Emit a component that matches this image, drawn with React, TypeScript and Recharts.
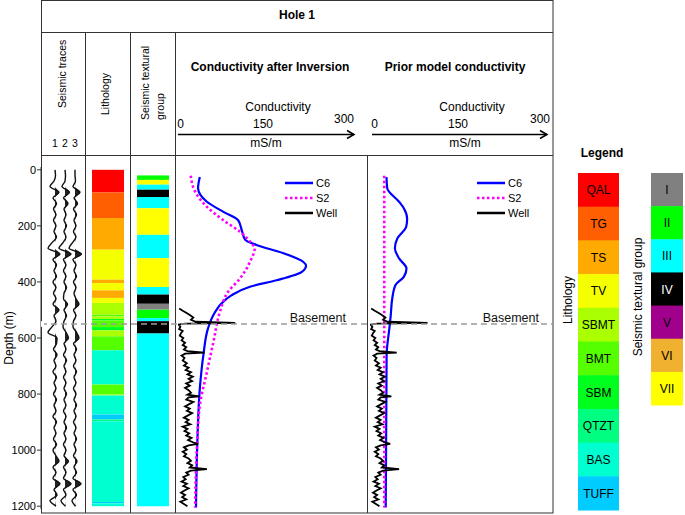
import {
  Area,
  Bar,
  BarChart,
  Cell,
  ComposedChart,
  Legend,
  Line,
  ReferenceLine,
  XAxis,
  YAxis,
} from "recharts";

const font = '"Liberation Sans", Arial, sans-serif';

// depth axis (m)
const depthTicks = [0, 200, 400, 600, 800, 1000, 1200];
const depthDomain: [number, number] = [-10, 1210];
const basementDepth = 550;

// seismic traces, amplitude every 20 m
const traceDepths = [
  0, 20, 40, 60, 80, 100, 120, 140, 160, 180, 200, 220, 240, 260, 280, 300, 320, 340, 360, 380,
  400, 420, 440, 460, 480, 500, 520, 540, 560, 580, 600, 620, 640, 660, 680, 700, 720, 740, 760,
  780, 800, 820, 840, 860, 880, 900, 920, 940, 960, 980, 1000, 1020, 1040, 1060, 1080, 1100,
  1120, 1140, 1160, 1180, 1200,
];
const trace1 = [
  0, 0.5, -1, -5, 4, -2, 1.5, -1.5, 1, -1.5, 1, -1, 1.5, -3, -7, 5, -2, 1.5, -1, 1.5, -2, 1, -1.5,
  1, -2, 4, -1, 1, -3, -7, 2, 1.5, -1.5, 2, -1, 1, -2, 1.5, -1, 1, -1.5, 1.5, -1, 1, -2, 1.5, -1,
  1, -1.5, 1.5, -2, 1, 4, -2, 1, -2, 5, -1, 2, -5, 1,
];
const trace2 = [
  0, 0.5, 0, -3, 4.5, -1.5, 3, -1, 1, -1, 1.5, -1, 1, -2, -6, 6, -1.5, 1, -1.5, 1, -1, 1.5, -1,
  -1.5, 2.5, -1, 1.5, -1, -2, 1, 3.5, -1, 1, -1.5, 1.5, -1, 1, -1.5, 1, -1, 1.5, -1, 1, -1.5, 1,
  -1, 1.5, -1, 1, -1.5, 1, -1, 3.5, -1.5, 1, -1.5, 6, -1.5, 1, -4, 0.5,
];
const trace3 = [
  0, 0, 0.5, -2, 5, -1, 2.5, -1.5, 1.5, -1, 1, -1.5, 1, -2.5, -6, 6.5, -2, 1, -1, 1.5, -1.5, 1,
  -1, 1, 4, -1.5, 1, -1.5, -2, 1.5, 4, -1.5, 1.5, -1, 1, -1.5, 1.5, -1, 1, -1.5, 1, -1, 1.5, -1,
  1, -1.5, 1, -1, 1.5, -1, 1, -1.5, 2, -1, 1.5, -2, 6, -2, 1.5, -3, 0.5,
];
const traceLabels = ["1", "2", "3"];
const traceOffsets = [14, 24, 34];

// lithology and seismic textural legend
const lithUnits = ["QAL", "TG", "TS", "TV", "SBMT", "BMT", "SBM", "QTZT", "BAS", "TUFF"];
const lithColors = [
  "#ff0000", "#ff5f00", "#ffaa00", "#f4ff00", "#aaff00",
  "#55ff00", "#00ff1e", "#00ff80", "#00ffd0", "#00ccff",
];
const texGroups = ["I", "II", "III", "IV", "V", "VI", "VII"];
const texColors = ["#808080", "#00ff00", "#00ffff", "#000000", "#a0008c", "#f0b030", "#ffff00"];

// layer tops (m) in the well
const lithTops = [
  0, 81, 172, 285, 392, 404, 430, 457, 475, 517, 523, 532, 537, 561, 573, 594, 644, 766, 802,
  805, 873, 891, 897, 1185, 1190,
];
const lithNames = [
  "QAL", "TG", "TS", "TV", "TS", "TV", "TS", "TV", "SBMT", "BMT", "SBMT", "SBM", "BMT", "SBM",
  "SBMT", "BMT", "BAS", "BMT", "SBMT", "BAS", "TUFF", "QTZT", "BAS", "TUFF", "BAS",
];
const texTops = [20, 36, 53, 71, 97, 137, 232, 315, 418, 445, 478, 499, 529, 540, 584];
const texNames = [
  "II", "VII", "III", "IV", "III", "VII", "III", "VII", "III", "IV", "I", "II", "III", "IV", "III",
];
const columnBase = 1200;

// conductivity (mS/m) after inversion
const invC6Depth = [26, 65, 114, 150, 180, 215, 250, 268, 297, 328, 342, 364, 394, 417, 447, 476, 518, 565, 661, 780, 958, 1205];
const invC6Cond = [37, 34, 49, 77, 102, 108, 114, 133, 178, 212, 217, 210, 167, 122, 91, 74, 60, 51, 43, 37, 33, 30.5];
const invS2Depth = [21, 78, 132, 180, 221, 263, 280, 328, 388, 435, 507, 614, 721, 840, 995, 1205];
const invS2Cond = [21.5, 29, 49, 77, 105, 125, 130, 122, 105, 85, 71, 60, 49, 37, 32, 29];

// prior model conductivity
const priorC6Depth = [26, 65, 114, 137, 175, 203, 245, 280, 316, 352, 382, 411, 459, 518, 566, 661, 1205];
const priorC6Cond = [27.8, 29, 49, 57, 62.6, 61, 46, 42, 49, 61.5, 57, 43, 37.5, 35, 32.6, 28, 26.5];
const priorS2Depth = [21, 1205];
const priorS2Cond = [24, 24];

// well log
const wellDepth = [
  495, 503, 510, 518, 527, 535, 542, 546, 549, 552, 560, 568, 575, 583, 592, 600, 608, 617, 625,
  633, 641, 647, 652, 656, 663, 671, 680, 690, 698, 706, 714, 722, 730, 738, 746, 754, 762, 770,
  778, 786, 795, 802, 808, 812, 820, 828, 836, 844, 852, 860, 868, 876, 884, 892, 900, 908, 916,
  924, 932, 940, 948, 956, 964, 972, 978, 983, 990, 998, 1006, 1014, 1022, 1030, 1038, 1046,
  1054, 1062, 1068, 1073, 1080, 1088, 1096, 1104, 1112, 1120, 1128, 1136, 1144, 1152, 1160,
  1168, 1176, 1184, 1192, 1200,
];
const wellCond = [
  2, 8, 14, 20, 26, 22, 30, 97, 12, 1, 4, 2, 8, 5, 3, 9, 6, 12, 8, 14, 10, 16, 45, 12, 6, 11, 8,
  15, 10, 18, 13, 22, 16, 25, 18, 24, 14, 20, 12, 18, 22, 16, 36, 18, 14, 26, 19, 12, 20, 15, 24,
  17, 10, 18, 13, 21, 8, 16, 11, 19, 14, 23, 17, 25, 34, 18, 10, 15, 8, 14, 10, 18, 22, 16, 24,
  20, 49, 22, 14, 18, 9, 13, 6, 15, 9, 18, 11, 5, 12, 7, 14, 4, 10, 16,
];

const zip = (depth: number[], cond: number[]) => depth.map((d, i) => ({ depth: d, cond: cond[i] }));

const seismicData = traceDepths.map((depth, i) => {
  const row: Record<string, number> = { depth };
  [trace1, trace2, trace3].forEach((tr, k) => {
    row[`t${k}`] = traceOffsets[k] + tr[i];
    row[`p${k}`] = traceOffsets[k] + Math.max(tr[i], 0);
  });
  return row;
});

const lithColor = (name: string) => lithColors[lithUnits.indexOf(name)];
const texColor = (name: string) => texColors[texGroups.indexOf(name)];

const lithSegments = lithTops.map((top, i) => ({
  size: (lithTops[i + 1] ?? columnBase) - top,
  color: lithColor(lithNames[i]),
}));
const texSegments = [
  { size: texTops[0], color: "transparent" },
  ...texTops.map((top, i) => ({
    size: (texTops[i + 1] ?? columnBase) - top,
    color: texColor(texNames[i]),
  })),
];
const segCount = Math.max(lithSegments.length, texSegments.length);
const toRow = (col: string, segs: { size: number }[]) => {
  const row: Record<string, number | string> = { col };
  segs.forEach((s, i) => (row[`s${i}`] = s.size));
  return row;
};
const columnData = [toRow("lith", lithSegments), toRow("tex", texSegments)];

const chartTop = 155;
const chartHeight = 358;
const plotMargin = { top: 12, bottom: 4 };

function SeriesLegend(props: any) {
  const entries = props.payload ?? [];
  return (
    <div style={{ fontFamily: font, fontSize: 11, color: "#000" }}>
      {entries.map((e: any) => (
        <div key={e.value} style={{ display: "flex", alignItems: "center", height: 15 }}>
          <svg width={28} height={6} style={{ display: "block" }}>
            <line
              x1={0}
              y1={3}
              x2={28}
              y2={3}
              stroke={e.color}
              strokeWidth={2.5}
              strokeDasharray={e.payload?.strokeDasharray}
            />
          </svg>
          <span style={{ marginLeft: 3 }}>{e.value}</span>
        </div>
      ))}
    </div>
  );
}

type PanelProps = {
  left: number;
  width: number;
  marginRight: number;
  c6: { depth: number; cond: number }[];
  s2: { depth: number; cond: number }[];
};

// in vertical layout the numeric y axis already runs top -> bottom
function ConductivityPanel({ left, width, marginRight, c6, s2 }: PanelProps) {
  return (
    <div style={{ position: "absolute", left, top: chartTop }}>
      <ComposedChart
        layout="vertical"
        width={width}
        height={chartHeight}
        margin={{ ...plotMargin, left: 3, right: marginRight }}
      >
        <XAxis type="number" dataKey="cond" domain={[0, 300]} height={0} ticks={[190]} tick={false}
          mirror tickSize={4} stroke="#444" allowDataOverflow />
        <XAxis xAxisId="top" orientation="top" type="number" domain={[0, 300]} height={0}
          ticks={[140]} tick={false} mirror tickSize={4} stroke="#444" />
        <YAxis type="number" dataKey="depth" domain={depthDomain} width={0} tick={false}
          tickLine={false} stroke="#444" allowDataOverflow />
        <YAxis yAxisId="right" orientation="right" type="number" domain={depthDomain}
          width={0} ticks={[200, 400, 600, 800, 1000, 1200]} tick={false} mirror tickSize={4}
          stroke="#444" />
        <ReferenceLine y={basementDepth} stroke="none"
          label={{ value: "Basement", position: "insideBottomRight", offset: 2, dx: -7, fontSize: 12.5, fill: "#111", fontFamily: font }} />
        <Line data={c6} dataKey="cond" name="C6" type="monotone" stroke="#0000ff" strokeWidth={2.2}
          dot={false} isAnimationActive={false} legendType="plainline" />
        <Line data={s2} dataKey="cond" name="S2" type="monotone" stroke="#ff00ff" strokeWidth={2.6}
          strokeDasharray="2.5 2.5" dot={false} isAnimationActive={false} legendType="plainline" />
        <Line data={zip(wellDepth, wellCond)} dataKey="cond" name="Well" type="linear" stroke="#000"
          strokeWidth={1.8} dot={false} isAnimationActive={false} legendType="plainline" />
        <Legend layout="vertical" align="center" verticalAlign="middle" content={SeriesLegend}
          wrapperStyle={{ left: 110, top: 20, width: 70 }} />
      </ComposedChart>
    </div>
  );
}

function SeismicChart() {
  return (
    <div style={{ position: "absolute", left: 0, top: chartTop }}>
      <ComposedChart layout="vertical" width={85} height={chartHeight} data={seismicData}
        margin={{ ...plotMargin, left: 0, right: 0 }}>
        <XAxis type="number" domain={[0, 44]} hide />
        <YAxis type="number" dataKey="depth" domain={depthDomain} ticks={depthTicks}
          width={41} tickSize={4} tickMargin={1} stroke="#333"
          tick={{ fontSize: 11, fill: "#000", fontFamily: font }}
          label={{ value: "Depth (m)", angle: -90, position: "insideLeft", offset: 9,
            style: { textAnchor: "middle", fontSize: 12, fill: "#000", fontFamily: font } }} />
        {traceOffsets.map((off, k) => (
          <Area key={`a${k}`} dataKey={`p${k}`} baseValue={off} type="monotone" stroke="none"
            fill="#222" fillOpacity={1} isAnimationActive={false} />
        ))}
        {traceOffsets.map((_, k) => (
          <Line key={`l${k}`} dataKey={`t${k}`} type="monotone" stroke="#111" strokeWidth={1.4}
            dot={false} isAnimationActive={false} />
        ))}
      </ComposedChart>
    </div>
  );
}

function ColumnsChart() {
  return (
    <div style={{ position: "absolute", left: 85, top: chartTop }}>
      <BarChart width={90} height={chartHeight} data={columnData} barSize={32}
        margin={{ ...plotMargin, left: 0, right: 0 }}>
        <XAxis dataKey="col" type="category" hide />
        <YAxis type="number" reversed domain={depthDomain} hide allowDataOverflow />
        {Array.from({ length: segCount }, (_, i) => (
          <Bar key={i} dataKey={`s${i}`} stackId="col" isAnimationActive={false}>
            <Cell fill={lithSegments[i]?.color ?? "transparent"} />
            <Cell fill={texSegments[i]?.color ?? "transparent"} />
          </Bar>
        ))}
      </BarChart>
    </div>
  );
}

function BasementLine() {
  return (
    <div style={{ position: "absolute", left: 41, top: chartTop, pointerEvents: "none" }}>
      <ComposedChart layout="vertical" width={512} height={chartHeight}
        data={[{ depth: basementDepth, v: 0 }]} margin={{ ...plotMargin, left: 0, right: 0 }}>
        <XAxis type="number" dataKey="v" domain={[0, 1]} hide />
        <YAxis type="number" dataKey="depth" domain={depthDomain} hide />
        <Line dataKey="v" stroke="none" dot={false} isAnimationActive={false} />
        <ReferenceLine y={basementDepth} stroke="#9a9a9a" strokeWidth={1.4} strokeDasharray="6 4" />
      </ComposedChart>
    </div>
  );
}

function Arrow({ x1, x2, y }: { x1: number; x2: number; y: number }) {
  return (
    <g stroke="#000" strokeWidth={1.5} fill="none">
      <line x1={x1} y1={y} x2={x2} y2={y} />
      <polyline points={`${x2 - 7},${y - 4} ${x2},${y} ${x2 - 7},${y + 4}`} />
    </g>
  );
}

function Decor() {
  const lithTop = 173;
  const lithH = (510 - lithTop) / lithUnits.length;
  const texH = (405 - lithTop) / texGroups.length;
  return (
    <svg width={685} height={515} style={{ position: "absolute", left: 0, top: 0 }}
      fontFamily={font} fill="#000">
      <rect x={41.5} y={0.5} width={511.5} height={512.5} fill="none" stroke="#333" />
      <line x1={41} y1={32.5} x2={553} y2={32.5} stroke="#333" />
      <line x1={41} y1={155.5} x2={553} y2={155.5} stroke="#333" />
      {[85.5, 130.5, 175.5].map((x) => (
        <line key={x} x1={x} y1={32} x2={x} y2={513} stroke="#333" />
      ))}
      <line x1={367.5} y1={155} x2={367.5} y2={513} stroke="#333" />

      <text x={297} y={19} textAnchor="middle" fontSize={12} fontWeight="bold">Hole 1</text>

      <text transform="translate(65.5,108) rotate(-90)" fontSize={10.5}>Seismic traces</text>
      {traceLabels.map((t, k) => (
        <text key={t} x={41 + traceOffsets[k]} y={147} textAnchor="middle" fontSize={10.5}>{t}</text>
      ))}
      <text transform="translate(108.5,115) rotate(-90)" fontSize={10.5}>Lithology</text>
      <text transform="translate(148.5,120) rotate(-90)" fontSize={10.5}>Seismic textural</text>
      <text transform="translate(164,120) rotate(-90)" fontSize={10.5}>group</text>

      <text x={270} y={71} textAnchor="middle" fontSize={12} fontWeight="bold">Conductivity after Inversion</text>
      <text x={455} y={71} textAnchor="middle" fontSize={12} fontWeight="bold">Prior model conductivity</text>

      <text x={278} y={111} textAnchor="middle" fontSize={12}>Conductivity</text>
      <text x={180.5} y={127.5} textAnchor="middle" fontSize={12}>0</text>
      <text x={263} y={127.5} textAnchor="middle" fontSize={12}>150</text>
      <text x={344} y={123} textAnchor="middle" fontSize={12}>300</text>
      <Arrow x1={178} x2={354} y={134.5} />
      <text x={266} y={147} textAnchor="middle" fontSize={12}>mS/m</text>

      <text x={472} y={111} textAnchor="middle" fontSize={12}>Conductivity</text>
      <text x={374.5} y={127.5} textAnchor="middle" fontSize={12}>0</text>
      <text x={458} y={127.5} textAnchor="middle" fontSize={12}>150</text>
      <text x={540} y={123} textAnchor="middle" fontSize={12}>300</text>
      <Arrow x1={372} x2={547} y={134.5} />
      <text x={465} y={147} textAnchor="middle" fontSize={12}>mS/m</text>

      <text x={602} y={157} textAnchor="middle" fontSize={12} fontWeight="bold">Legend</text>
      <text transform="translate(571.5,300) rotate(-90)" textAnchor="middle" fontSize={12}>Lithology</text>
      {lithUnits.map((u, i) => (
        <g key={u}>
          <rect x={578} y={lithTop + i * lithH} width={41} height={lithH + 0.5} fill={lithColors[i]} />
          <text x={598.5} y={lithTop + i * lithH + lithH / 2 + 4.5} textAnchor="middle" fontSize={12}>{u}</text>
        </g>
      ))}
      <text transform="translate(641.5,297) rotate(-90)" textAnchor="middle" fontSize={12}>Seismic textural group</text>
      {texGroups.map((g, i) => (
        <g key={g}>
          <rect x={651} y={lithTop + i * texH} width={32} height={texH + 0.5} fill={texColors[i]} />
          <text x={667} y={lithTop + i * texH + texH / 2 + 4.5} textAnchor="middle" fontSize={12}
            fill={g === "IV" ? "#fff" : "#000"}>{g}</text>
        </g>
      ))}
    </svg>
  );
}

export default function App() {
  return (
    <div style={{ position: "absolute", left: 0, top: 0, width: 685, height: 515, background: "#fff",
      fontFamily: font, overflow: "hidden" }}>
      <Decor />
      <SeismicChart />
      <ColumnsChart />
      <ConductivityPanel left={175} width={192} marginRight={12}
        c6={zip(invC6Depth, invC6Cond)} s2={zip(invS2Depth, invS2Cond)} />
      <ConductivityPanel left={367} width={186} marginRight={5}
        c6={zip(priorC6Depth, priorC6Cond)} s2={zip(priorS2Depth, priorS2Cond)} />
      <BasementLine />
    </div>
  );
}
